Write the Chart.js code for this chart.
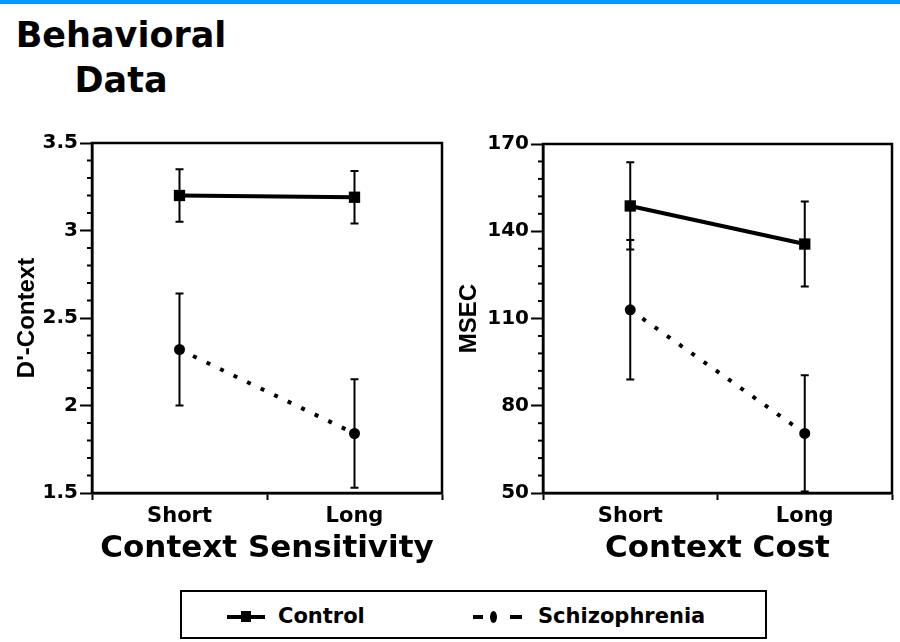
<!DOCTYPE html>
<html>
<head>
<meta charset="utf-8">
<script src="https://cdn.jsdelivr.net/npm/chart.js@4.4.0/dist/chart.umd.min.js"></script>
<style>
  body { margin: 0; width: 900px; height: 642px; overflow: hidden; background: #fff; position: relative; font-family: "DejaVu Sans", sans-serif; font-weight: bold; color: #000; }
  .bar { position: absolute; left: 0; top: 0; width: 900px; height: 4px; background: #0099ff; }
  .head { position: absolute; left: 0; top: 13px; width: 242px; text-align: center; font-size: 35px; line-height: 45px; }
  canvas { position: absolute; top: 120px; }
  .legend { position: absolute; left: 180px; top: 590px; width: 587px; height: 49px; box-sizing: border-box; border: 2px solid #000; }
  .mk { position: absolute; background: #000; }
  .lt { position: absolute; top: 604px; font-size: 21px; line-height: 25px; }
</style>
</head>
<body>
<div class="bar"></div>
<div class="head">Behavioral<br>Data</div>
<canvas id="sens" width="450" height="460" style="left:0"></canvas>
<canvas id="cost" width="450" height="460" style="left:450px"></canvas>
<div class="legend"></div>
<div class="mk" style="left:227px;top:615px;width:38px;height:4px"></div>
<div class="mk" style="left:241px;top:611px;width:10px;height:11px"></div>
<div class="lt" style="left:278px">Control</div>
<div class="mk" style="left:473px;top:615px;width:10px;height:4px"></div>
<div class="mk" style="left:490px;top:611px;width:7px;height:12px;border-radius:50%"></div>
<div class="mk" style="left:510px;top:615px;width:12px;height:4px"></div>
<div class="lt" style="left:538px">Schizophrenia</div>
<script>
const categories = ['Short', 'Long'];

// Context Sensitivity (D'-Context)
const sensControl = [3.20, 3.19];
const sensControlErr = [0.15, 0.15];
const sensSchizo = [2.32, 1.84];
const sensSchizoErr = [0.32, 0.31];

// Context Cost (MSEC)
const costControl = [148.7, 135.6];
const costControlErr = [15, 14.6];
const costSchizo = [113, 70.5];
const costSchizoErr = [24, 20];

Chart.defaults.color = '#000';
Chart.defaults.font.family = '"DejaVu Sans", sans-serif';
Chart.defaults.font.weight = 'bold';

// categories sit at x = 1, 3 on a 0..4 axis
function points(vals) {
  return vals.map((v, i) => ({ x: i * 2 + 1, y: v }));
}

const errorBars = {
  id: 'errorBars',
  beforeDatasetsDraw(chart) {
    const ctx = chart.ctx;
    const xs = chart.scales.x, ys = chart.scales.y;
    ctx.save();
    ctx.strokeStyle = '#000';
    ctx.lineWidth = 2;
    chart.data.datasets.forEach(ds => {
      ds.data.forEach((p, i) => {
        const e = ds.errors[i];
        const x = xs.getPixelForValue(p.x);
        const y1 = ys.getPixelForValue(p.y + e);
        const y2 = ys.getPixelForValue(p.y - e);
        ctx.beginPath();
        ctx.moveTo(x, y1); ctx.lineTo(x, y2);
        ctx.moveTo(x - 4, y1); ctx.lineTo(x + 4, y1);
        ctx.moveTo(x - 4, y2); ctx.lineTo(x + 4, y2);
        ctx.stroke();
      });
    });
    ctx.restore();
  }
};

// box around the plot plus short minor ticks on y
function framePlugin(isMajor) {
  return {
    id: 'frame',
    afterDraw(chart) {
      const ctx = chart.ctx;
      const a = chart.chartArea;
      const ys = chart.scales.y;
      ctx.save();
      ctx.strokeStyle = '#000';
      ctx.lineWidth = 2.5;
      ctx.strokeRect(a.left, a.top, a.right - a.left, a.bottom - a.top);
      ctx.lineWidth = 2;
      ys.ticks.forEach(t => {
        if (isMajor(t.value)) return;
        const y = ys.getPixelForValue(t.value);
        ctx.beginPath();
        ctx.moveTo(a.left - 5, y); ctx.lineTo(a.left, y);
        ctx.stroke();
      });
      ctx.restore();
    }
  };
}

function makeChart(id, cfg) {
  const isMajor = cfg.isMajor;
  new Chart(document.getElementById(id), {
    type: 'line',
    data: {
      datasets: [
        {
          label: 'Control',
          data: points(cfg.control),
          errors: cfg.controlErr,
          borderColor: '#000',
          backgroundColor: '#000',
          borderWidth: 4,
          pointStyle: 'rect',
          pointRadius: 8,
          pointBorderWidth: 0
        },
        {
          label: 'Schizophrenia',
          data: points(cfg.schizo),
          errors: cfg.schizoErr,
          borderColor: '#000',
          backgroundColor: '#000',
          borderWidth: 4,
          borderDash: [4, 11],
          pointStyle: 'circle',
          pointRadius: 5.5,
          pointBorderWidth: 0
        }
      ]
    },
    options: {
      responsive: false,
      animation: false,
      layout: { padding: { left: 0, top: cfg.top, right: 7, bottom: 0 } },
      plugins: { legend: { display: false }, tooltip: { enabled: false } },
      scales: {
        x: {
          type: 'linear',
          min: 0,
          max: 4,
          afterFit: s => { s.height = 87; },
          ticks: {
            stepSize: 1,
            autoSkip: false,
            maxRotation: 0,
            padding: 4,
            font: { size: 21 },
            callback: v => (v % 2 === 1 ? categories[(v - 1) / 2] : '')
          },
          grid: {
            drawOnChartArea: false,
            tickLength: 7,
            tickWidth: 2,
            tickColor: c => (c.tick && c.tick.value % 2 === 0 ? '#000' : 'rgba(0,0,0,0)')
          },
          border: { color: '#000', width: 2.5 },
          title: {
            display: true,
            text: cfg.xTitle,
            font: { size: 31 },
            padding: { top: 0, bottom: 12 }
          }
        },
        y: {
          min: cfg.min,
          max: cfg.max,
          afterFit: s => { s.width = cfg.yWidth; },
          ticks: {
            stepSize: cfg.step,
            autoSkip: false,
            padding: 2,
            font: { size: 20 },
            callback: v => (isMajor(v) ? String(v) : '')
          },
          grid: {
            drawOnChartArea: false,
            tickLength: 12,
            tickWidth: 2,
            tickColor: c => (c.tick && isMajor(c.tick.value) ? '#000' : 'rgba(0,0,0,0)')
          },
          border: { color: '#000', width: 2.5 },
          title: {
            display: true,
            text: cfg.yTitle,
            font: { family: '"Liberation Sans", Arial, sans-serif', size: 24 },
            padding: { top: cfg.yTitlePad, bottom: 0 }
          }
        }
      }
    },
    plugins: [errorBars, framePlugin(isMajor)]
  });
}

makeChart('sens', {
  control: sensControl, controlErr: sensControlErr,
  schizo: sensSchizo, schizoErr: sensSchizoErr,
  min: 1.5, max: 3.5, step: 0.1,
  isMajor: v => Math.abs(v * 2 - Math.round(v * 2)) < 1e-6,
  top: 23, yWidth: 92, yTitlePad: 13,
  xTitle: 'Context Sensitivity', yTitle: "D'-Context"
});

makeChart('cost', {
  control: costControl, controlErr: costControlErr,
  schizo: costSchizo, schizoErr: costSchizoErr,
  min: 50, max: 170, step: 6,
  isMajor: v => Math.abs((v - 50) % 30) < 1e-6,
  top: 24, yWidth: 93, yTitlePad: 5,
  xTitle: 'Context Cost', yTitle: 'MSEC'
});
</script>
</body>
</html>
